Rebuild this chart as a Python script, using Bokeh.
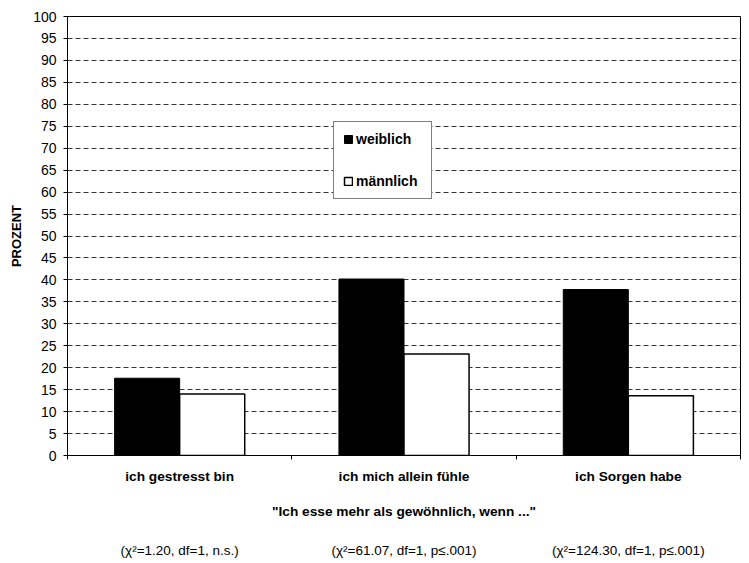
from bokeh.plotting import figure
from bokeh.models import Range1d, FixedTicker, LinearAxis, Legend, LegendItem
from bokeh.embed import file_html
from bokeh.resources import INLINE

categories = ["ich gestresst bin", "ich mich allein fühle", "ich Sorgen habe"]
weiblich = [17.6, 40.2, 37.8]
maennlich = [14.0, 23.1, 13.6]
series_names = ["weiblich", "männlich"]
chi_labels = ["(χ²=1.20, df=1, n.s.)", "(χ²=61.07, df=1, p≤.001)", "(χ²=124.30, df=1, p≤.001)"]
y_ticks = list(range(0, 101, 5))
x_title = "\"Ich esse mehr als gewöhnlich, wenn ...\""
y_title = "PROZENT"

FONT = "Liberation Sans"
bar_w = 0.29
centers = [i + 0.5 for i in range(len(categories))]
bounds = [float(i) for i in range(len(categories) + 1)]

p = figure(width=742, height=560,
           x_range=Range1d(0, len(categories)), y_range=Range1d(0, 100),
           output_backend="svg", toolbar_location=None,
           min_border_left=67, min_border_right=2, min_border_top=16, min_border_bottom=100)

p.outline_line_color = "black"
p.outline_line_width = 1
p.background_fill_color = "white"
p.border_fill_color = "white"

r_w = p.vbar(x=[c - bar_w / 2 for c in centers], width=bar_w, top=weiblich, bottom=0,
             fill_color="black", line_color="black", line_width=1)
r_m = p.vbar(x=[c + bar_w / 2 for c in centers], width=bar_w, top=maennlich, bottom=0,
             fill_color="white", line_color="black", line_width=1.5)

# grid
p.xgrid.visible = False
p.ygrid.ticker = FixedTicker(ticks=y_ticks)
p.ygrid.grid_line_color = "#333333"
p.ygrid.grid_line_dash = "5 3"
p.ygrid.grid_line_width = 1

# y axis
ya = p.yaxis[0]
ya.ticker = FixedTicker(ticks=y_ticks)
ya.axis_line_color = "black"
ya.major_tick_line_color = "black"
ya.major_tick_out = 4
ya.major_tick_in = 0
ya.minor_tick_line_color = None
ya.major_label_standoff = 7
ya.major_label_text_font = FONT
ya.major_label_text_font_size = "14px"
ya.major_label_text_color = "black"
ya.axis_label = y_title
ya.axis_label_text_font = FONT
ya.axis_label_text_font_size = "13px"
ya.axis_label_text_font_style = "bold"
ya.axis_label_text_color = "black"
ya.axis_label_standoff = 6

# x axis (categories + title)
xa = p.xaxis[0]
xa.ticker = FixedTicker(ticks=centers, minor_ticks=bounds)
xa.major_label_overrides = {c: n for c, n in zip(centers, categories)}
xa.axis_line_color = "black"
xa.major_tick_line_color = None
xa.major_tick_out = 0
xa.major_tick_in = 0
xa.minor_tick_line_color = "black"
xa.minor_tick_out = 4
xa.minor_tick_in = 0
xa.major_label_standoff = 9
xa.major_label_text_font = FONT
xa.major_label_text_font_size = "13.7px"
xa.major_label_text_font_style = "bold"
xa.major_label_text_color = "black"
xa.axis_label = x_title
xa.axis_label_text_font = FONT
xa.axis_label_text_font_size = "13.7px"
xa.axis_label_text_font_style = "bold"
xa.axis_label_text_color = "black"
xa.axis_label_standoff = 17

# second axis with chi-square texts
chi_axis = LinearAxis(ticker=FixedTicker(ticks=centers),
                      major_label_overrides={c: t for c, t in zip(centers, chi_labels)},
                      axis_line_color=None, major_tick_line_color=None, minor_tick_line_color=None,
                      major_tick_out=0, major_tick_in=0,
                      major_label_standoff=21,
                      major_label_text_font=FONT, major_label_text_font_size="13.5px",
                      major_label_text_color="black")
p.add_layout(chi_axis, "below")

legend = Legend(items=[LegendItem(label=series_names[0], renderers=[r_w]),
                       LegendItem(label=series_names[1], renderers=[r_m])],
                location=(266, 256), orientation="vertical",
                glyph_width=10, glyph_height=10, label_standoff=3,
                label_height=16, label_width=66, spacing=26, padding=9, margin=0,
                label_text_font=FONT, label_text_font_size="14px",
                label_text_font_style="bold", label_text_color="black",
                border_line_color="black", border_line_width=1,
                background_fill_color="white", background_fill_alpha=1.0)
p.add_layout(legend)

open("out.html", "w").write(file_html(p, INLINE))
